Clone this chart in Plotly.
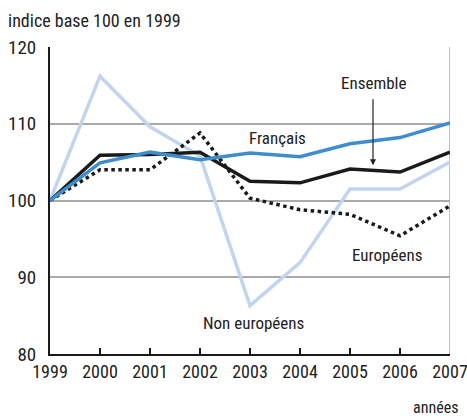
import plotly.graph_objects as go

years = [1999, 2000, 2001, 2002, 2003, 2004, 2005, 2006, 2007]
ensemble = [100, 105.9, 106.0, 106.3, 102.5, 102.3, 104.1, 103.7, 106.3]
francais = [100, 104.9, 106.3, 105.3, 106.2, 105.7, 107.4, 108.2, 110.1]
europeens = [100, 104.0, 104.0, 108.8, 100.3, 98.8, 98.2, 95.4, 99.3]
non_europeens = [100, 116.2, 109.6, 105.8, 86.3, 91.9, 101.5, 101.5, 105.0]

FONT = "Liberation Sans Narrow, Roboto Condensed, Arial Narrow, Liberation Sans, sans-serif"

fig = go.Figure()
fig.add_trace(go.Scatter(x=years, y=non_europeens, mode="lines", name="Non européens",
                         line=dict(color="#c3d5ee", width=3.5)))
fig.add_trace(go.Scatter(x=years, y=europeens, mode="lines", name="Européens",
                         line=dict(color="#1a1a1a", width=3.5, dash="dot")))
fig.add_trace(go.Scatter(x=years, y=ensemble, mode="lines", name="Ensemble",
                         line=dict(color="#1a1a1a", width=3.5)))
fig.add_trace(go.Scatter(x=years, y=francais, mode="lines", name="Français",
                         line=dict(color="#3f8dcd", width=3.5)))

fig.add_shape(type="line", xref="x", yref="y", x0=2007, x1=2007, y0=80, y1=120,
              line=dict(color="#aaaaaa", width=1.5), layer="below")

tf = dict(family=FONT, size=17, color="#222222")
fig.add_annotation(x=2005.46, y=104.6, ax=2005.46, ay=113.4, axref="x", ayref="y",
                   xref="x", yref="y", showarrow=True, arrowhead=2, arrowsize=1,
                   arrowwidth=1.2, arrowcolor="#222222", text="")
fig.add_annotation(x=2005.46, y=115.3, xref="x", yref="y", text="Ensemble",
                   showarrow=False, font=tf)
fig.add_annotation(x=2003.54, y=108.1, xref="x", yref="y", text="Français",
                   showarrow=False, font=tf)
fig.add_annotation(x=2005.74, y=92.9, xref="x", yref="y", text="Européens",
                   showarrow=False, font=tf)
fig.add_annotation(x=2003.06, y=84.1, xref="x", yref="y", text="Non européens",
                   showarrow=False, font=tf)
fig.add_annotation(x=0, y=1, xref="paper", yref="paper", xanchor="left", yanchor="bottom",
                   xshift=-44, yshift=14, text="indice base 100 en 1999",
                   showarrow=False, font=dict(family=FONT, size=18, color="#222222"))
fig.add_annotation(x=1, y=0, xref="paper", yref="paper", xanchor="right", yanchor="top",
                   xshift=10, yshift=-42, text="années",
                   showarrow=False, font=dict(family=FONT, size=16, color="#222222"))

fig.update_layout(
    width=467, height=416,
    margin=dict(l=50, r=17, t=47, b=62),
    paper_bgcolor="white", plot_bgcolor="white",
    showlegend=False,
    font=dict(family=FONT, size=19, color="#222222"),
    xaxis=dict(range=[1999, 2007], tickmode="array", tickvals=years,
               ticktext=[str(y) for y in years], showgrid=False, zeroline=False,
               showline=True, linecolor="#1a1a1a", linewidth=2, automargin=False,
               ticks="inside", ticklen=6, tickwidth=1.5, tickcolor="#1a1a1a",
               ticklabeloverflow="allow",
               tickfont=dict(family=FONT, size=18, color="#222222")),
    yaxis=dict(range=[80, 120], tickvals=[80, 90, 100, 110, 120],
               showgrid=True, gridcolor="#aaaaaa", gridwidth=1.5, zeroline=False,
               showline=True, linecolor="#1a1a1a", linewidth=2, ticks="",
               ticklabelstandoff=8, automargin=False,
               tickfont=dict(family=FONT, size=19, color="#222222")),
)

fig.write_html("out.html", config={"displayModeBar": False},
               post_script="document.body.style.margin='0';document.body.style.overflow='hidden';")
